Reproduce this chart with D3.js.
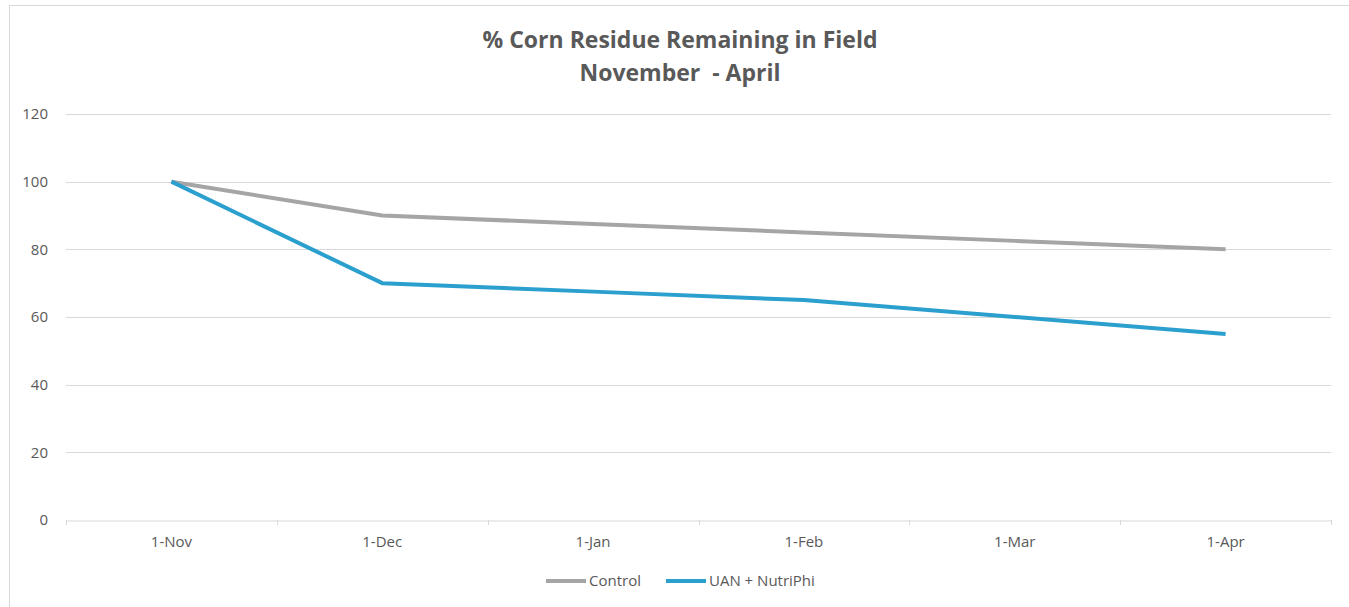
<!DOCTYPE html>
<html>
<head>
<meta charset="utf-8">
<script src="https://cdn.jsdelivr.net/npm/d3@7"></script>
<style>
  body { margin: 0; background: #fff; }
  text { font-family: "Open Sans", "Liberation Sans", sans-serif; }
</style>
</head>
<body>
<div class="chart"></div>
<script>
const months = ['1-Nov', '1-Dec', '1-Jan', '1-Feb', '1-Mar', '1-Apr'];
const control = [100, 90, 87.5, 85, 82.5, 80];
const uanNutriPhi = [100, 70, 67.5, 65, 60, 55];
const yTicks = [0, 20, 40, 60, 80, 100, 120];
const seriesNames = ['Control', 'UAN + NutriPhi'];
const seriesColors = ['#a5a5a5', '#2b9fcd'];

const width = 1349;
const height = 607;
const margin = {top: 114, right: 18, bottom: 87, left: 66};

const svg = d3.select('.chart')
  .append('svg')
  .attr('width', width)
  .attr('height', height);

// chart frame
svg.append('rect')
  .attr('x', 9.5)
  .attr('y', 5.5)
  .attr('width', width + 10)
  .attr('height', height + 10)
  .attr('fill', 'none')
  .attr('stroke', '#d9d9d9');

const x = d3.scaleBand()
  .domain(months)
  .range([margin.left, width - margin.right]);

const y = d3.scaleLinear()
  .domain([0, 120])
  .range([height - margin.bottom, margin.top]);

// gridlines
svg.append('g')
  .selectAll('line')
  .data(yTicks.filter(d => d > 0))
  .enter()
  .append('line')
  .attr('x1', margin.left)
  .attr('x2', width - margin.right)
  .attr('y1', d => Math.round(y(d)) + 0.5)
  .attr('y2', d => Math.round(y(d)) + 0.5)
  .attr('stroke', '#d9d9d9')
  .attr('stroke-width', 1);

// y axis labels
const yAxis = svg.append('g')
  .attr('transform', `translate(${margin.left},0)`)
  .call(d3.axisLeft(y).tickValues(yTicks).tickSize(0).tickPadding(18));
yAxis.select('.domain').remove();
yAxis.selectAll('text')
  .attr('font-size', 15)
  .attr('fill', '#595959')
  .style('font-family', '"Open Sans", sans-serif');

// x axis
const xAxis = svg.append('g')
  .attr('transform', `translate(0,${Math.round(y(0)) + 0.5})`)
  .call(d3.axisBottom(x).tickSize(0).tickPadding(16));
xAxis.select('.domain').attr('stroke', '#d9d9d9');
xAxis.selectAll('text')
  .attr('font-size', 15)
  .attr('fill', '#595959')
  .style('font-family', '"Open Sans", sans-serif');

// category tick marks at band edges
svg.append('g')
  .selectAll('line')
  .data(months.map(m => x(m)).concat([x(months[months.length - 1]) + x.bandwidth()]))
  .enter()
  .append('line')
  .attr('x1', d => Math.round(d) + 0.5)
  .attr('x2', d => Math.round(d) + 0.5)
  .attr('y1', Math.round(y(0)))
  .attr('y2', Math.round(y(0)) + 5)
  .attr('stroke', '#d9d9d9');

const line = d3.line()
  .x((d, i) => x(months[i]) + x.bandwidth() / 2)
  .y(d => y(d));

[control, uanNutriPhi].forEach((vals, i) => {
  svg.append('path')
    .datum(vals)
    .attr('d', line)
    .attr('fill', 'none')
    .attr('stroke', seriesColors[i])
    .attr('stroke-width', 4)
    .attr('stroke-linejoin', 'round');
});

// title
svg.append('text')
  .attr('x', 680)
  .attr('y', 48)
  .attr('text-anchor', 'middle')
  .attr('font-size', 23)
  .attr('font-weight', 'bold')
  .attr('fill', '#595959')
  .text('% Corn Residue Remaining in Field');
svg.append('text')
  .attr('x', 680)
  .attr('y', 81)
  .attr('text-anchor', 'middle')
  .attr('font-size', 23)
  .attr('font-weight', 'bold')
  .attr('fill', '#595959')
  .style('white-space', 'pre')
  .text('November  - April');

// legend
const legendX = [546, 666];
const legend = svg.append('g');
seriesNames.forEach((name, i) => {
  legend.append('line')
    .attr('x1', legendX[i])
    .attr('x2', legendX[i] + 40)
    .attr('y1', 581)
    .attr('y2', 581)
    .attr('stroke', seriesColors[i])
    .attr('stroke-width', 4);
  legend.append('text')
    .attr('x', legendX[i] + 43)
    .attr('y', 586)
    .attr('font-size', 15)
    .attr('fill', '#595959')
    .text(name);
});
</script>
</body>
</html>
